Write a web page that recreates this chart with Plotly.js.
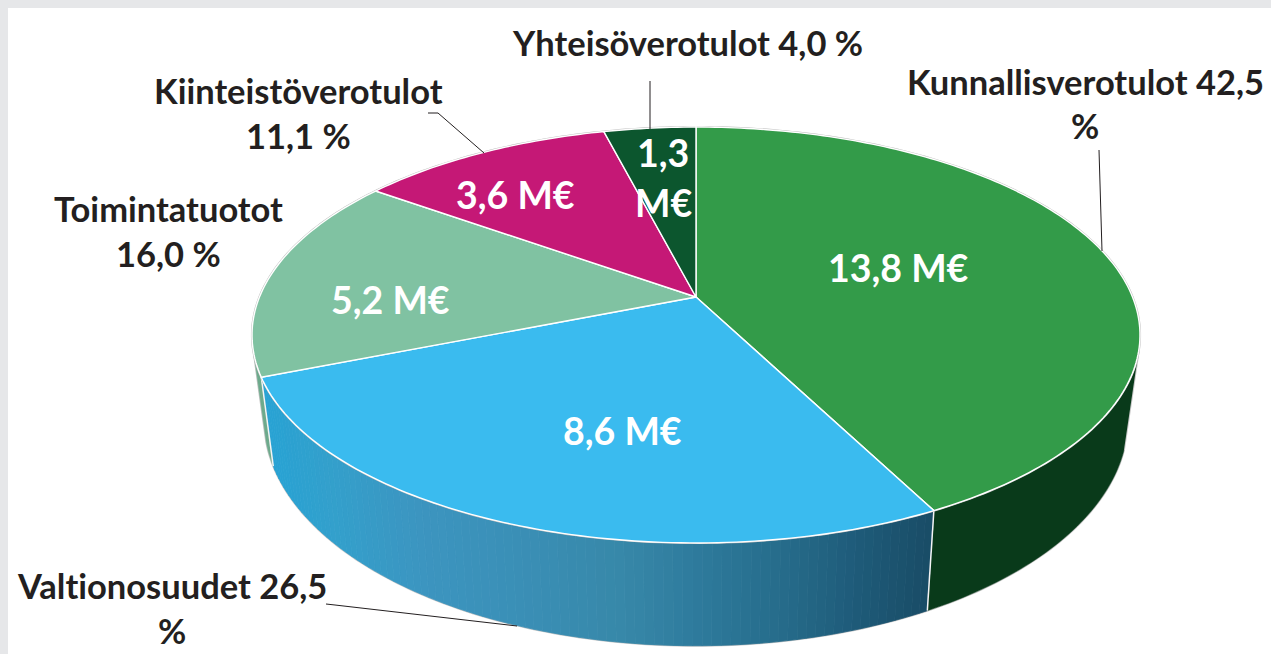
<!DOCTYPE html>
<html>
<head>
<meta charset="utf-8">
<script src="https://cdn.plot.ly/plotly-3.0.1.min.js"></script>
<style>html,body{margin:0;padding:0;background:#fff;overflow:hidden}#chart{width:1271px;height:654px}
text{font-variant-ligatures:none;font-feature-settings:"liga" 0,"clig" 0,"dlig" 0}</style>
</head>
<body>
<div id="chart"></div>
<script>
// ---- data ----
const categories = ['Kunnallisverotulot','Valtionosuudet','Toimintatuotot','Kiinteistöverotulot','Yhteisöverotulot'];
const percents   = [42.5, 26.5, 16.0, 11.1, 4.0];
const millions   = [13.8, 8.6, 5.2, 3.6, 1.3];

// ---- styles ----
const topColors  = ['#339B49','#3ABBEF','#80C2A2','#C51876','#0C562E'];
const sideColors = ['#093A1A','#2A7FA6','#6DAA8C','#8C1055','#083D20'];
// side shading of the blue slice, left to right in pixels
const blueShadeX = [273, 330, 420, 520, 620, 700, 780, 860, 930];
const blueShade  = ['#28A2D3','#33A0CC','#3C95C0','#3A8FB6','#3788A9','#2E7A9C','#266C8B','#1E5A78','#194C66'];

// ---- projection of the disc to the plot ----
const cx = 696;
const persp = 0.1827;
const topDisc = {a: 436.5, b: 201, y0: 297};
const lowDisc = {a: 424.5, b: 218, y0: 379};
function proj(disc, deg) {
  const t = deg * Math.PI / 180, u = Math.sin(t), v = Math.cos(t), d = 1 + persp * v;
  return [cx + disc.a * u / d, disc.y0 - disc.b * v / d];
}
function lerpColor(c1, c2, f) {
  const p = c => [1,3,5].map(i => parseInt(c.substr(i,2),16));
  const a = p(c1), b = p(c2);
  return 'rgb(' + a.map((x,i) => Math.round(x + (b[i]-x)*f)).join(',') + ')';
}
function blueAt(x) {
  const xs = blueShadeX;
  if (x <= xs[0]) return blueShade[0];
  for (let i = 1; i < xs.length; i++) if (x <= xs[i]) return lerpColor(blueShade[i-1], blueShade[i], (x-xs[i-1])/(xs[i]-xs[i-1]));
  return blueShade[blueShade.length-1];
}
const total = percents.reduce((s,v) => s+v, 0);
const edges = [0];
percents.forEach(v => edges.push(edges[edges.length-1] + v/total*360));

const traces = [];
function poly(pts, fill, lineColor, lineW) {
  traces.push({type:'scatter', mode:'lines', x:pts.map(p=>p[0]), y:pts.map(p=>p[1]), fill:'toself', fillcolor:fill,
    line:{color:lineColor, width:lineW, simplify:false}, hoverinfo:'skip', showlegend:false});
}
function line(pts, color, w) {
  traces.push({type:'scatter', mode:'lines', x:pts.map(p=>p[0]), y:pts.map(p=>p[1]),
    line:{color:color, width:w, simplify:false}, hoverinfo:'skip', showlegend:false});
}
function arc(disc, a, b, step) {
  const pts = [], n = Math.max(2, Math.ceil(Math.abs(b-a)/step));
  for (let i = 0; i <= n; i++) pts.push(proj(disc, a + (b-a)*i/n));
  return pts;
}

// silhouette angles of the wall on the two discs
const rightTop = 105, rightLow = 108, leftTop = 254, leftLow = 254;

// soft outline round the wall
line([proj(topDisc,rightTop)].concat(arc(lowDisc, rightLow, leftLow, 1)).concat([proj(topDisc,leftTop)]), '#c8c8c8', 2);

// side walls: slices 0..2 have the visible wall
poly(arc(topDisc, rightTop, edges[1], 1).concat(arc(lowDisc, edges[1], rightLow, 1)), sideColors[0], sideColors[0], 0.5);
{
  const a = edges[1], b = edges[2], n = 90;
  for (let i = 0; i < n; i++) {
    const t0 = a + (b-a)*i/n, t1 = a + (b-a)*(i+1)/n;
    const q = [proj(topDisc,t0), proj(topDisc,t1), proj(lowDisc,t1), proj(lowDisc,t0)];
    const col = blueAt((q[0][0] + q[3][0] + q[1][0] + q[2][0]) / 4);
    poly(q.concat([q[0]]), col, col, 0.8);
  }
}
poly(arc(topDisc, edges[2], leftTop, 1).concat(arc(lowDisc, leftLow, edges[2], 1)), sideColors[2], sideColors[2], 0.5);
// seam lines on the wall
line([proj(topDisc,edges[1]), proj(lowDisc,edges[1])], '#f4f4f4', 1.5);
line([proj(topDisc,edges[2]), proj(lowDisc,edges[2])], '#f4f4f4', 1.5);

// top face
line(arc(topDisc, 0, 360, 1), '#bdbdbd', 2.2);
percents.forEach((v,i) => {
  const pts = [[cx, topDisc.y0]].concat(arc(topDisc, edges[i], edges[i+1], 1)).concat([[cx, topDisc.y0]]);
  poly(pts, topColors[i], '#ffffff', 1.4);
});

// leader lines
const leaderColor = '#231F20';
const leaders = [
  [[1099,150],[1102,251]],
  [[650,81],[650,129]],
  [[428,113],[438,113],[484,153]],
  [[326,604],[335,605],[517,626]]
];
leaders.forEach(l => line(l, leaderColor, 1));

// ---- labels ----
const fi = v => v.toFixed(1).replace('.', ',');
const labelFont = {family:'Lato, Carlito, sans-serif', size:34.5, color:'#231F20', weight:700};
const valueFont = {family:'Lato, Carlito, sans-serif', size:37.5, color:'#FFFFFF', weight:700};
const annotations = [];
function note(text, x, y, font) {
  annotations.push({text:text, x:x, y:y, xref:'x', yref:'y', showarrow:false, xanchor:'center', yanchor:'middle', font:font});
}
note(categories[0] + ' ' + fi(percents[0]), 1085, 81.5, labelFont);
note('%', 1085, 125.5, labelFont);
note(categories[4] + ' ' + fi(percents[4]) + ' %', 687, 42, labelFont);
note(categories[3], 298, 90.5, labelFont);
note(fi(percents[3]) + ' %', 298, 135.5, labelFont);
note(categories[2], 168, 208.5, labelFont);
note(fi(percents[2]) + ' %', 168, 253.5, labelFont);
note(categories[1] + ' ' + fi(percents[1]), 172, 585.5, labelFont);
note('%', 172, 630.5, labelFont);
note(fi(millions[0]) + ' M€', 898, 267, valueFont);
note(fi(millions[1]) + ' M€', 622, 430, valueFont);
note(fi(millions[2]) + ' M€', 390, 299, valueFont);
note(fi(millions[3]) + ' M€', 515, 194, valueFont);
note(fi(millions[4]), 663, 152, valueFont);
note('M€', 663, 202, valueFont);

const layout = {
  width:1271, height:654,
  margin:{l:8, r:0, t:8, b:0, pad:0},
  paper_bgcolor:'#E6E7E9', plot_bgcolor:'#FFFFFF',
  xaxis:{range:[8,1271], visible:false, fixedrange:true},
  yaxis:{range:[654,8], visible:false, fixedrange:true},
  showlegend:false,
  annotations:annotations
};
Plotly.newPlot('chart', traces, layout, {displayModeBar:false, staticPlot:true});
</script>
</body>
</html>
